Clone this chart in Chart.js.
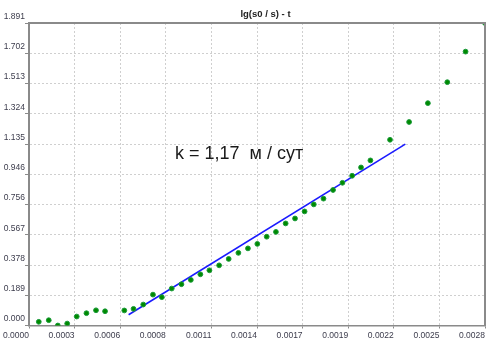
<!DOCTYPE html>
<html>
<head>
<meta charset="utf-8">
<script src="https://cdn.jsdelivr.net/npm/chart.js@4/dist/chart.umd.min.js"></script>
<style>
  html, body { margin: 0; padding: 0; background: #ffffff; }
  #wrap { width: 491px; height: 348px; }
</style>
</head>
<body>
<div id="wrap"><canvas id="c" width="491" height="348"></canvas></div>
<script>
// ---- data ----
const tValues = [0.0000594, 0.000120, 0.000175, 0.000232, 0.000290, 0.000349, 0.000407, 0.000462,
  0.000579, 0.000635, 0.000694, 0.000753, 0.000807, 0.000867, 0.000926, 0.000983, 0.001041,
  0.001096, 0.001155, 0.001213, 0.001272, 0.001330, 0.001387, 0.001444, 0.001500, 0.001559,
  0.001616, 0.001674, 0.001730, 0.001789, 0.001847, 0.001904, 0.001963, 0.002017, 0.002074,
  0.002193, 0.002309, 0.002423, 0.002541, 0.002652, 0.002770];
const lgValues = [0.023, 0.033, 0.000, 0.012, 0.056, 0.077, 0.095, 0.089,
  0.094, 0.104, 0.131, 0.193, 0.177, 0.231, 0.258, 0.285, 0.320,
  0.345, 0.376, 0.416, 0.454, 0.482, 0.510, 0.555, 0.585, 0.638,
  0.669, 0.713, 0.757, 0.793, 0.847, 0.892, 0.936, 0.988, 1.032,
  1.161, 1.272, 1.390, 1.521, 1.712, 1.891];
const fitT = [0.000605, 0.002286];
const fitLg = [0.067, 1.134];

const xMax = 0.00277;
const yMax = 1.891;
const xTickLabels = ['0.0000', '0.0003', '0.0006', '0.0008', '0.0011', '0.0014', '0.0017', '0.0019', '0.0022', '0.0025', '0.0028'];
const yTickLabels = ['0.000', '0.189', '0.378', '0.567', '0.756', '0.946', '1.135', '1.324', '1.513', '1.702', '1.891'];

const titleText = 'lg(s0 / s) - t';
const noteText = 'k = 1,17  м / сут';

const FONT = '"Liberation Sans", Arial, sans-serif';

const points = tValues.map((t, i) => ({ x: t, y: lgValues[i] }));
const fitLine = fitT.map((t, i) => ({ x: t, y: fitLg[i] }));

const framePlugin = {
  id: 'frame',
  afterDatasetsDraw(chart) {
    const { ctx, chartArea: a } = chart;
    ctx.save();
    ctx.strokeStyle = '#8a8a8a';
    ctx.lineWidth = 2;
    ctx.beginPath();
    ctx.moveTo(a.left, a.top);
    ctx.lineTo(a.right, a.top);
    ctx.lineTo(a.right, a.bottom);
    ctx.stroke();
    ctx.restore();
  },
  afterDraw(chart) {
    const { ctx } = chart;
    ctx.save();
    ctx.fillStyle = '#222222';
    ctx.font = 'bold 9.5px ' + FONT;
    ctx.textAlign = 'center';
    ctx.textBaseline = 'alphabetic';
    ctx.fillText(titleText, 265.5, 16.5);
    ctx.font = '18px ' + FONT;
    ctx.textAlign = 'left';
    ctx.fillStyle = '#1a1a1a';
    ctx.fillText(noteText, 175, 158.5);
    ctx.restore();
  }
};

new Chart(document.getElementById('c'), {
  type: 'scatter',
  data: {
    datasets: [
      {
        type: 'scatter',
        data: points,
        backgroundColor: '#008a00',
        borderColor: '#1a9a3a',
        borderWidth: 1,
        pointRadius: 2.4,
        order: 1
      },
      {
        type: 'line',
        data: fitLine,
        borderColor: '#1a1aff',
        borderWidth: 1.6,
        pointRadius: 0,
        fill: false,
        tension: 0,
        order: 2
      }
    ]
  },
  options: {
    responsive: false,
    animation: false,
    devicePixelRatio: 1,
    layout: { padding: { top: 23, right: 6, left: 0, bottom: 0 } },
    plugins: { legend: { display: false }, title: { display: false }, tooltip: { enabled: false } },
    scales: {
      x: {
        type: 'linear',
        min: 0,
        max: xMax,
        afterBuildTicks(scale) {
          scale.ticks = xTickLabels.map((_, i) => ({ value: xMax * i / (xTickLabels.length - 1) }));
        },
        afterFit(scale) { scale.height = 22.5; },
        ticks: {
          autoSkip: false,
          maxRotation: 0,
          align: 'end',
          padding: 2,
          color: '#3c3c4c',
          font: { family: FONT, size: 8.5 },
          callback: (v, i) => xTickLabels[i]
        },
        grid: {
          color: '#cfcfcf',
          lineWidth: 1,
          tickColor: '#8a8a8a',
          tickLength: 3,
          tickWidth: 1
        },
        border: { display: true, color: '#8a8a8a', width: 1.5, dash: [2, 2] }
      },
      y: {
        type: 'linear',
        min: 0,
        max: yMax,
        afterBuildTicks(scale) {
          scale.ticks = yTickLabels.map((_, i) => ({ value: yMax * i / (yTickLabels.length - 1) }));
        },
        afterFit(scale) { scale.width = 29; },
        ticks: {
          autoSkip: false,
          padding: 0,
          labelOffset: -6.5,
          color: '#3c3c4c',
          font: { family: FONT, size: 8.5 },
          callback: (v, i) => yTickLabels[i]
        },
        grid: {
          color: '#cfcfcf',
          lineWidth: 1,
          tickColor: '#8a8a8a',
          tickLength: 4,
          tickWidth: 1
        },
        border: { display: true, color: '#8a8a8a', width: 2, dash: [2, 2] }
      }
    }
  },
  plugins: [framePlugin]
});
</script>
</body>
</html>
